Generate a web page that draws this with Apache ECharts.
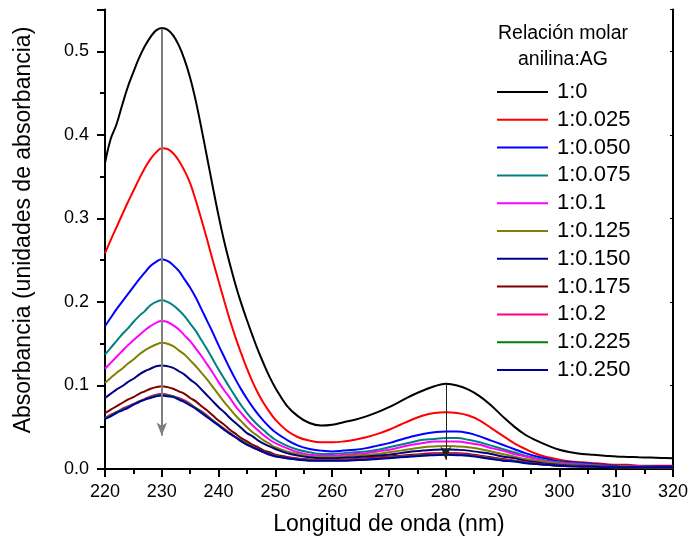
<!DOCTYPE html>
<html>
<head>
<meta charset="utf-8">
<script src="https://cdn.jsdelivr.net/npm/echarts@6/dist/echarts.min.js"></script>
<style>html,body{margin:0;padding:0;background:#fff;}#c{width:691px;height:541px;}</style>
</head>
<body>
<div id="c"></div>
<script>
const wavelengths = [220,221,222,223,224,225,226,227,228,229,230,231,232,233,234,235,236,237,238,239,240,241,242,243,244,245,246,247,248,249,250,
252,254,256,258,260,262,264,266,268,270,272,274,276,278,280,282,284,286,288,290,292,294,296,298,300,302,304,306,308,310,312,314,316,318,320];

const seriesNames = ['1:0','1:0.025','1:0.050','1:0.075','1:0.1','1:0.125','1:0.150','1:0.175','1:0.2','1:0.225','1:0.250'];
const seriesColors = ['#000000','#ff0000','#0000ff','#008080','#ff00ff','#808000','#000080','#800000','#ff0080','#008000','#0000a0'];

const r_1_0 = [.366,.395,.412,.435,.457,.475,.492,.506,.517,.525,.528,.526,.519,.507,.490,.468,.440,.407,.372,.337,.303,.272,.245,.220,.198,.178,.159,.141,.125,.110,.097,
.076,.063,.055,.052,.053,.056,.059,.063,.068,.074,.081,.088,.094,.099,.102,.100,.095,.087,.076,.063,.051,.041,.034,.028,.023,.020,.018,.017,.016,.015,.0145,.014,.0137,.0133,.013];
const r_1_0025 = [.258,.274,.289,.304,.319,.333,.347,.360,.371,.379,.384,.383,.378,.369,.357,.342,.321,.298,.274,.249,.225,.201,.178,.157,.138,.120,.104,.090,.078,.068,.059,
.046,.038,.034,.032,.032,.033,.035,.038,.042,.047,.053,.059,.064,.067,.068,.067,.064,.058,.049,.040,.031,.024,.018,.014,.011,.009,.008,.007,.006,.005,.005,.004,.004,.004,.004];
const r_1_0050 = [.171,.181,.191,.200,.209,.218,.227,.235,.243,.248,.251,.249,.244,.237,.227,.217,.205,.191,.177,.163,.148,.134,.120,.107,.095,.084,.074,.065,.057,.050,.044,
.035,.028,.024,.022,.021,.022,.023,.025,.028,.031,.035,.039,.042,.044,.045,.045,.043,.039,.034,.029,.024,.019,.015,.012,.009,.008,.007,.006,.005,.004,.004,.003,.003,.003,.003];
const r_1_0075 = [.137,.145,.153,.161,.168,.176,.183,.189,.196,.200,.202,.200,.196,.190,.183,.174,.165,.154,.143,.131,.119,.108,.097,.086,.076,.067,.059,.052,.046,.040,.035,
.028,.023,.020,.018,.018,.019,.020,.021,.023,.026,.029,.032,.035,.036,.037,.037,.035,.032,.028,.024,.020,.016,.013,.010,.008,.007,.006,.005,.004,.004,.003,.003,.003,.002,.002];
const r_1_01 = [.120,.127,.134,.141,.148,.154,.160,.166,.171,.175,.177,.176,.172,.167,.160,.153,.144,.135,.125,.115,.104,.094,.085,.075,.067,.059,.052,.046,.040,.035,.031,
.025,.020,.017,.016,.016,.017,.018,.019,.021,.023,.026,.029,.031,.033,.033,.033,.031,.029,.025,.022,.018,.015,.012,.009,.007,.006,.005,.004,.004,.003,.003,.003,.002,.002,.002];
const r_1_0125 = [.103,.109,.115,.120,.126,.131,.137,.142,.146,.149,.151,.150,.147,.142,.137,.130,.123,.115,.107,.098,.089,.080,.072,.064,.057,.050,.044,.039,.034,.030,.026,
.021,.018,.015,.0145,.014,.015,.016,.017,.018,.020,.022,.024,.026,.027,.0275,.027,.026,.024,.021,.018,.015,.012,.010,.008,.006,.005,.004,.004,.003,.003,.003,.002,.002,.002,.002];
const r_1_0150 = [.085,.090,.095,.099,.104,.108,.113,.117,.120,.123,.124,.123,.121,.117,.113,.107,.102,.095,.088,.081,.074,.068,.061,.055,.049,.043,.039,.034,.030,.027,.024,
.019,.016,.014,.013,.013,.0135,.014,.015,.016,.017,.019,.021,.022,.023,.0235,.023,.022,.020,.018,.015,.013,.010,.008,.006,.005,.004,.004,.003,.003,.003,.002,.002,.002,.002,.002];
const r_1_0175 = [.067,.071,.075,.079,.083,.086,.090,.093,.096,.098,.099,.098,.096,.093,.090,.085,.081,.075,.070,.064,.058,.053,.047,.042,.037,.033,.029,.026,.022,.020,.017,
.0145,.0125,.0115,.011,.011,.0115,.012,.013,.014,.015,.016,.017,.018,.019,.019,.019,.018,.016,.014,.012,.010,.008,.007,.005,.004,.004,.003,.003,.003,.002,.002,.002,.002,.002,.002];
const r_1_02 = [.061,.065,.068,.072,.075,.078,.081,.084,.087,.089,.090,.089,.087,.085,.082,.078,.073,.069,.064,.058,.053,.048,.043,.038,.034,.030,.026,.023,.020,.018,.016,
.0135,.012,.011,.0108,.0108,.011,.0115,.012,.013,.014,.015,.016,.017,.018,.018,.018,.017,.015,.013,.011,.010,.008,.006,.005,.004,.004,.003,.003,.003,.002,.002,.002,.002,.002,.002];
const r_1_0225 = [.061,.064,.068,.071,.074,.077,.081,.083,.086,.088,.089,.088,.087,.084,.081,.077,.073,.068,.063,.058,.053,.047,.043,.038,.034,.030,.026,.023,.020,.018,.0155,
.013,.0115,.0105,.0103,.0103,.0105,.011,.0115,.0125,.0135,.0145,.0155,.0165,.017,.0175,.017,.0165,.0145,.0125,.0105,.0095,.0075,.006,.005,.004,.0035,.003,.003,.0025,.002,.002,.002,.002,.002,.002];
const r_1_0250 = [.060,.063,.067,.070,.073,.077,.080,.083,.085,.087,.088,.087,.086,.083,.080,.076,.072,.067,.062,.057,.052,.047,.042,.038,.033,.029,.026,.023,.020,.017,.015,
.013,.011,.010,.0098,.0098,.010,.0105,.011,.012,.013,.014,.015,.016,.0165,.017,.0165,.016,.014,.012,.010,.009,.007,.006,.005,.004,.003,.003,.003,.002,.002,.002,.002,.002,.002,.002];

const seriesValues = [r_1_0,r_1_0025,r_1_0050,r_1_0075,r_1_01,r_1_0125,r_1_0150,r_1_0175,r_1_02,r_1_0225,r_1_0250];

// arrows: [wavelength, start absorbance, end absorbance]
const arrow230 = [230, 0.527, 0.04];
const arrow280 = [280, 0.101, 0.011];

const xTicks = [220,230,240,250,260,270,280,290,300,310,320];
const yTicks = [0.0,0.1,0.2,0.3,0.4,0.5];
const legendTitle = 'Relación molar\nanilina:AG';
const xName = 'Longitud de onda (nm)';
const yName = 'Absorbancia (unidades de absorbancia)';

const FONT = '"Liberation Sans", Arial, sans-serif';
const chart = echarts.init(document.getElementById('c'), null, {renderer:'canvas'});

const series = seriesNames.map((n,k)=>({
  name: n,
  type: 'line',
  data: wavelengths.map((w,i)=>[w, seriesValues[k][i]]),
  symbol: 'none',
  smooth: 0.4,
  lineStyle: {color: seriesColors[k], width: 2},
  itemStyle: {color: seriesColors[k]},
  z: 2 + k
}));

series.push({
  type: 'line', data: [], silent: true, z: 30,
  markLine: {
    silent: true, animation: false, z: 30,
    symbol: ['none','arrow'], symbolSize: [8, 13],
    label: {show: false},
    data: [
      [{coord: [arrow230[0], arrow230[1]], lineStyle: {color: '#7f7f7f', width: 2, type: 'solid'}}, {coord: [arrow230[0], arrow230[2]]}],
      [{coord: [arrow280[0], arrow280[1]], lineStyle: {color: '#222222', width: 1, type: 'solid'}}, {coord: [arrow280[0], arrow280[2]]}]
    ]
  }
});

const axisLineStyle = {show: true, lineStyle: {color: '#000', width: 2}};
const hiddenLabel = {show: false};

chart.setOption({
  animation: false,
  backgroundColor: '#fff',
  grid: {left: 105, right: 18, top: 9.5, bottom: 72, containLabel: false},
  title: {
    text: legendTitle,
    left: 563, top: 21, textAlign: 'center', padding: 0,
    textStyle: {fontFamily: FONT, fontSize: 19.5, fontWeight: 'normal', color: '#000', lineHeight: 26}
  },
  legend: {
    orient: 'vertical', left: 497, top: 81, padding: 0,
    itemWidth: 51, itemHeight: 2, itemGap: 5.8, icon: 'rect',
    data: seriesNames,
    textStyle: {fontFamily: FONT, fontSize: 22, color: '#000', padding: [0,0,0,4]}
  },
  graphic: [{
    type: 'text', x: 24, y: 230, rotation: Math.PI / 2,
    style: {text: yName, fontFamily: FONT, fontSize: 23, fill: '#000', align: 'center', verticalAlign: 'middle'}
  }],
  xAxis: [{
    type: 'value', min: 220, max: 320, interval: 10,
    name: xName, nameLocation: 'middle', nameGap: 44,
    nameTextStyle: {fontFamily: FONT, fontSize: 23, color: '#000'},
    axisLine: axisLineStyle,
    axisTick: {show: true, inside: false, length: 8, lineStyle: {color: '#000', width: 2}},
    minorTick: {show: false},
    axisLabel: {fontFamily: FONT, fontSize: 18, color: '#000', margin: 14, formatter: v => xTicks.includes(v) ? String(v) : ''},
    splitLine: {show: false}
  },{
    type: 'value', position: 'top', min: 220, max: 320, interval: 10,
    axisLine: axisLineStyle,
    axisTick: {show: true, inside: true, length: 3, lineStyle: {color: '#000', width: 1}},
    axisLabel: hiddenLabel, splitLine: {show: false}
  },{
    type: 'value', position: 'bottom', min: 220, max: 320, interval: 5,
    axisLine: {show: false},
    axisTick: {show: true, inside: false, length: 5, lineStyle: {color: '#000', width: 2}},
    axisLabel: hiddenLabel, splitLine: {show: false}
  }],
  yAxis: [{
    type: 'value', min: 0, max: 0.55, interval: 0.1,
    axisLine: axisLineStyle,
    axisTick: {show: true, inside: false, length: 8, lineStyle: {color: '#000', width: 2}},
    minorTick: {show: false},
    axisLabel: {fontFamily: FONT, fontSize: 18, color: '#000', margin: 16,
      formatter: v => yTicks.some(t => Math.abs(t - v) < 1e-9) ? v.toFixed(1) : ''},
    splitLine: {show: false}
  },{
    type: 'value', position: 'right', min: 0, max: 0.55, interval: 0.1,
    axisLine: axisLineStyle,
    axisTick: {show: true, inside: true, length: 3, lineStyle: {color: '#000', width: 1}},
    axisLabel: hiddenLabel, splitLine: {show: false}
  },{
    type: 'value', position: 'left', min: 0, max: 0.55, interval: 0.05,
    axisLine: {show: false},
    axisTick: {show: true, inside: false, length: 5, lineStyle: {color: '#000', width: 2}},
    axisLabel: hiddenLabel, splitLine: {show: false}
  }],
  series: series
});
</script>
</body>
</html>
